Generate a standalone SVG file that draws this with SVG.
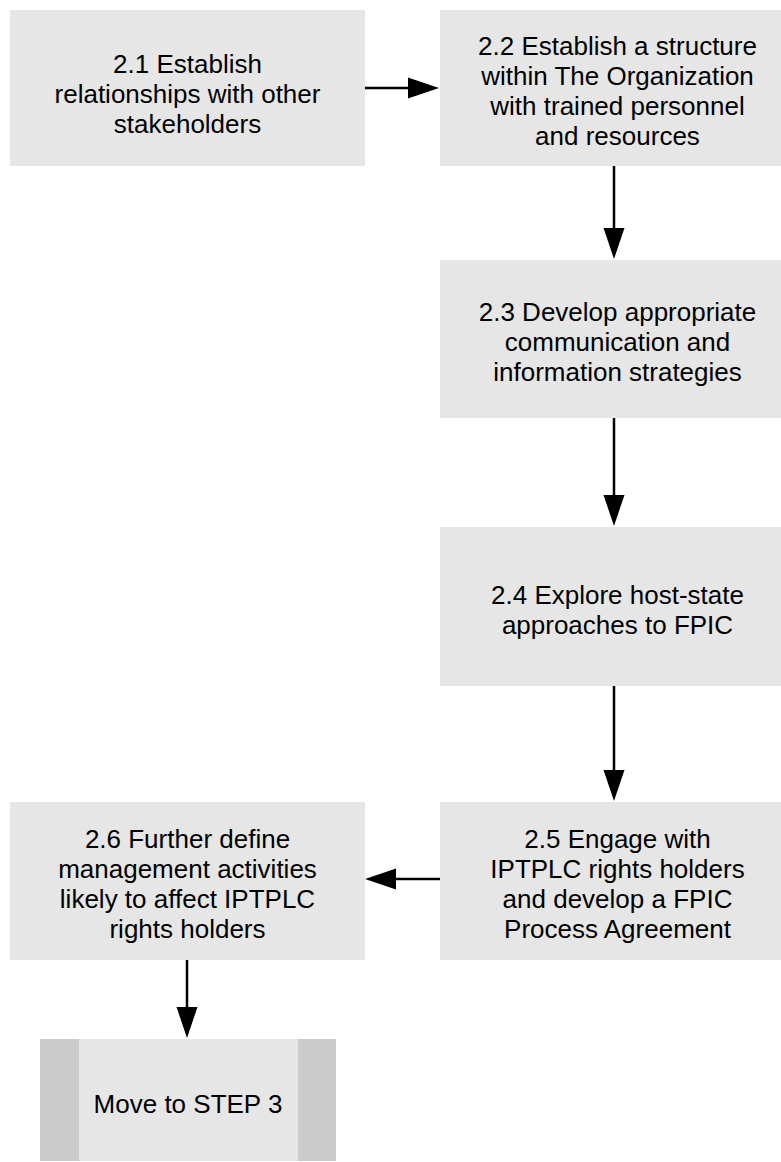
<svg xmlns="http://www.w3.org/2000/svg" width="781" height="1162" viewBox="0 0 781 1162">
  <style>
    .box { fill: #e6e6e6; }
    .bar { fill: #cccccc; }
    .label { font-family: "Liberation Sans", Arial, sans-serif; font-size: 26px; fill: #000000; text-anchor: middle; }
    .link { stroke: #000000; stroke-width: 2.5; fill: none; marker-end: url(#head); }
  </style>
  <defs>
    <!-- solid triangular arrowhead, drawn from the end of each connector line -->
    <marker id="head" markerUnits="userSpaceOnUse" markerWidth="31" markerHeight="21" refX="0" refY="10.5" orient="auto" overflow="visible">
      <path d="M0,0 L31,10.5 L0,21 Z" fill="#000000"/>
    </marker>
  </defs>

  <rect width="781" height="1162" fill="#ffffff"/>

  <g id="step-2-1">
    <rect class="box" x="10" y="10" width="355" height="156"/>
    <text class="label" x="187.5" y="73">2.1 Establish</text>
    <text class="label" x="187.5" y="103">relationships with other</text>
    <text class="label" x="187.5" y="133">stakeholders</text>
  </g>

  <g id="step-2-2">
    <rect class="box" x="440" y="10" width="355" height="156"/>
    <text class="label" x="617.5" y="55">2.2 Establish a structure</text>
    <text class="label" x="617.5" y="85">within The Organization</text>
    <text class="label" x="617.5" y="115">with trained personnel</text>
    <text class="label" x="617.5" y="145">and resources</text>
  </g>

  <g id="step-2-3">
    <rect class="box" x="440" y="260" width="355" height="158"/>
    <text class="label" x="617.5" y="321">2.3 Develop appropriate</text>
    <text class="label" x="617.5" y="351">communication and</text>
    <text class="label" x="617.5" y="381">information strategies</text>
  </g>

  <g id="step-2-4">
    <rect class="box" x="440" y="527" width="355" height="159"/>
    <text class="label" x="617.5" y="604">2.4 Explore host-state</text>
    <text class="label" x="617.5" y="634">approaches to FPIC</text>
  </g>

  <g id="step-2-5">
    <rect class="box" x="440" y="802" width="355" height="158"/>
    <text class="label" x="617.5" y="848">2.5 Engage with</text>
    <text class="label" x="617.5" y="878">IPTPLC rights holders</text>
    <text class="label" x="617.5" y="908">and develop a FPIC</text>
    <text class="label" x="617.5" y="938">Process Agreement</text>
  </g>

  <g id="step-2-6">
    <rect class="box" x="10" y="802" width="355" height="158"/>
    <text class="label" x="187.5" y="848">2.6 Further define</text>
    <text class="label" x="187.5" y="878">management activities</text>
    <text class="label" x="187.5" y="908">likely to affect IPTPLC</text>
    <text class="label" x="187.5" y="938">rights holders</text>
  </g>

  <g id="step-3">
    <rect class="box" x="40" y="1039" width="296" height="122"/>
    <rect class="bar" x="40" y="1039" width="39" height="122"/>
    <rect class="bar" x="298" y="1039" width="38" height="122"/>
    <text class="label" x="188" y="1113">Move to STEP 3</text>
  </g>

  <g id="connectors">
    <line class="link" x1="365" y1="88" x2="408" y2="88"/>
    <line class="link" x1="614" y1="166" x2="614" y2="228"/>
    <line class="link" x1="614" y1="418" x2="614" y2="495"/>
    <line class="link" x1="614" y1="686" x2="614" y2="770"/>
    <line class="link" x1="440" y1="879" x2="396" y2="879"/>
    <line class="link" x1="187" y1="960" x2="187" y2="1007"/>
  </g>
</svg>
